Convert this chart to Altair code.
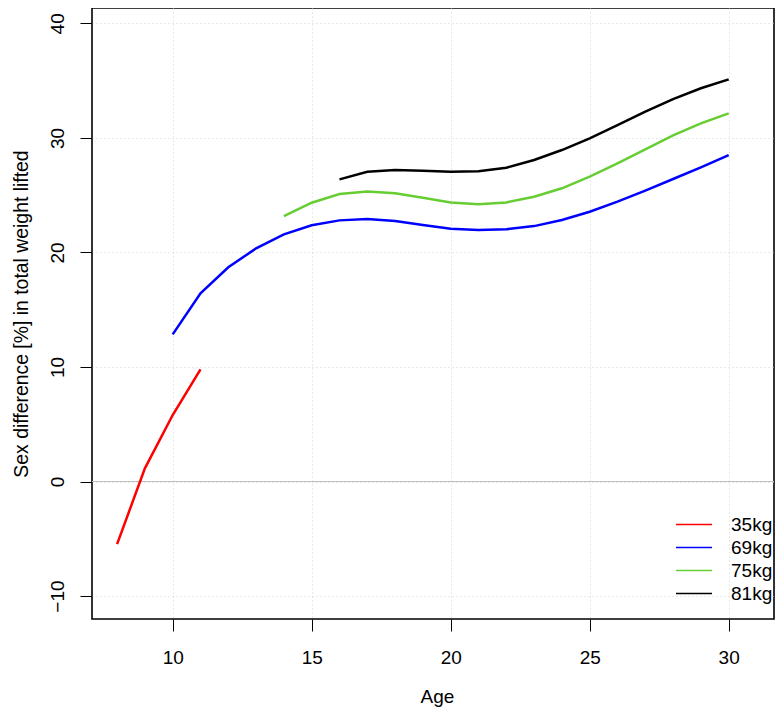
import altair as alt
import pandas as pd

series_names = ["35kg", "69kg", "75kg", "81kg"]
series_colors = ["#FF0000", "#0000FF", "#66CD33", "#000000"]

ages_35kg = [8, 9, 10, 11]
diff_35kg = [-5.46, 1.15, 5.81, 9.80]

ages_69kg = list(range(10, 31))
diff_69kg = [12.85, 16.43, 18.70, 20.36, 21.58, 22.37, 22.80, 22.92, 22.74, 22.39,
             22.07, 21.96, 22.02, 22.30, 22.83, 23.55, 24.43, 25.39, 26.41, 27.43, 28.50]

ages_75kg = list(range(14, 31))
diff_75kg = [23.18, 24.34, 25.10, 25.32, 25.16, 24.78, 24.37, 24.20, 24.37, 24.86,
             25.60, 26.61, 27.78, 29.00, 30.22, 31.27, 32.14]

ages_81kg = list(range(16, 31))
diff_81kg = [26.38, 27.04, 27.19, 27.13, 27.04, 27.08, 27.39, 28.07, 28.94, 29.96,
             31.12, 32.29, 33.39, 34.33, 35.11]

x_ticks = [10, 15, 20, 25, 30]
y_ticks = [-10, 0, 10, 20, 30, 40]
reference_line = [0]

rows = []
for name, ages, vals in [("35kg", ages_35kg, diff_35kg), ("69kg", ages_69kg, diff_69kg),
                         ("75kg", ages_75kg, diff_75kg), ("81kg", ages_81kg, diff_81kg)]:
    for a, v in zip(ages, vals):
        rows.append({"series": name, "age": a, "diff": v})
df = pd.DataFrame(rows)

FONT = "Liberation Sans"
W, H = 682, 611

x_enc = alt.X(
    "age:Q",
    scale=alt.Scale(domain=[7.097, 31.63], nice=False, zero=False),
    axis=alt.Axis(
        values=x_ticks, title="Age", domain=False,
        tickSize=12, tickColor="black", tickWidth=1,
        labelFontSize=19, labelFont=FONT, labelColor="black",
        labelBaseline="alphabetic", labelPadding=32, labelFlush=False,
        titleFontSize=19, titleFont=FONT, titleColor="black", titleFontWeight="normal",
        titleBaseline="alphabetic", titleAlign="center", titleX=345, titleY=83,
        grid=True, gridColor="#D3D3D3", gridDash=[1, 3], gridWidth=1,
    ),
)
y_enc = alt.Y(
    "diff:Q",
    scale=alt.Scale(domain=[-12.0, 41.34], nice=False, zero=False),
    axis=alt.Axis(
        values=y_ticks, title="Sex difference [%] in total weight lifted", domain=False,
        tickSize=12, tickColor="black", tickWidth=1,
        labelFontSize=19, labelFont=FONT, labelColor="black",
        labelAngle=-90, labelAlign="center", labelBaseline="alphabetic",
        labelPadding=17, labelFlush=False, labelOverlap=False,
        titleFontSize=19.4, titleFont=FONT, titleColor="black", titleFontWeight="normal",
        titleAngle=-90, titleBaseline="alphabetic", titleAlign="center",
        titleX=-65, titleY=305.5,
        grid=True, gridColor="#D3D3D3", gridDash=[1, 3], gridWidth=1,
    ),
)

lines = alt.Chart(df).mark_line(strokeWidth=2.5, clip=True).encode(
    x=x_enc,
    y=y_enc,
    color=alt.Color(
        "series:N",
        scale=alt.Scale(domain=series_names, range=series_colors),
        legend=alt.Legend(
            title=None, orient="none", legendX=589, legendY=503.5,
            symbolType="M-1.5,0H1.5", symbolSize=576, symbolStrokeWidth=1.3,
            symbolFillColor="transparent",
            labelFontSize=19, labelFont=FONT, labelColor="black",
            labelOffset=24, rowPadding=0, padding=0,
        ),
    ),
)

zero = alt.Chart(pd.DataFrame({"diff": reference_line})).mark_rule(
    color="#BEBEBE", strokeWidth=1
).encode(y=alt.Y("diff:Q"))

chart = alt.layer(zero, lines).properties(
    width=W, height=H,
    padding={"left": 84, "top": 0, "right": 1, "bottom": 88},
    autosize=alt.AutoSizeParams(type="none"),
    background="white",
).configure_view(stroke="black", strokeWidth=1.6)

chart.save("out.html", embed_options={"renderer": "svg", "actions": False})
